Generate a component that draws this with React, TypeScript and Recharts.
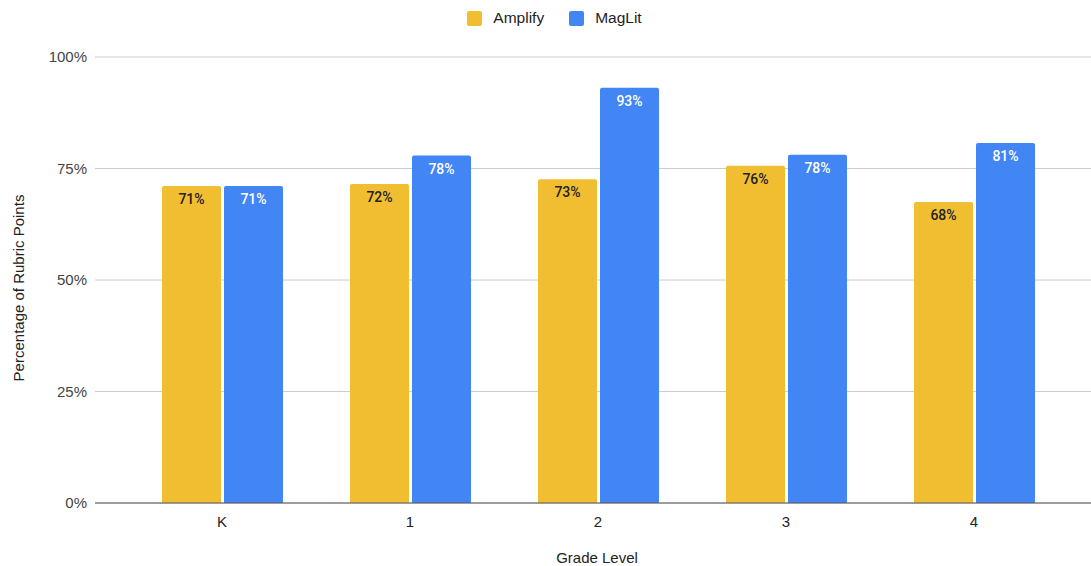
import React from "react";
import { BarChart, Bar, XAxis, YAxis, CartesianGrid, Legend, LabelList, Label } from "recharts";

const grades = ["K", "1", "2", "3", "4"];
const amplify = [71.1, 71.5, 72.6, 75.6, 67.5];
const maglit = [71.1, 77.9, 93.1, 78.1, 80.7];
const yTicks = [0, 25, 50, 75, 100];
const seriesNames = ["Amplify", "MagLit"];
const seriesColors = ["#F1BE32", "#4285F4"];

const data = grades.map((g, i) => ({ grade: g, Amplify: amplify[i], MagLit: maglit[i] }));

const FONT = "Arial, 'Liberation Sans', Helvetica, sans-serif";

const makeLabel = (color: string) => (props: any) => {
  const { x, y, width, value } = props;
  return (
    <text
      x={x + width / 2}
      y={y + 13}
      textAnchor="middle"
      dominantBaseline="central"
      fill={color}
      style={{ fontFamily: "Roboto, sans-serif", fontSize: 14, fontWeight: 500 }}
    >
      {Math.round(value)}%
    </text>
  );
};

const LegendContent = () => (
  <div
    style={{
      display: "flex",
      justifyContent: "center",
      alignItems: "center",
      height: 30,
      paddingLeft: 18,
      boxSizing: "border-box",
      fontFamily: FONT,
      fontSize: 15.5,
      color: "#222",
    }}
  >
    {seriesNames.map((n, i) => (
      <div key={n} style={{ display: "flex", alignItems: "center", marginRight: i === 0 ? 25 : 0 }}>
        <span
          style={{
            display: "inline-block",
            width: 15,
            height: 15,
            borderRadius: 2,
            background: seriesColors[i],
            marginRight: 11,
          }}
        />
        <span>{n}</span>
      </div>
    ))}
  </div>
);

const YLabel = () => (
  <text
    x={18}
    y={288}
    transform="rotate(-90, 18, 288)"
    textAnchor="middle"
    dominantBaseline="central"
    fill="#222"
    style={{ fontFamily: FONT, fontSize: 15 }}
  >
    Percentage of Rubric Points
  </text>
);

export default function App() {
  return (
    <div style={{ position: "absolute", left: 0, top: 0, width: 1091, height: 566, background: "#fff" }}>
      <BarChart
        width={1091}
        height={566}
        data={data}
        margin={{ top: 27, right: 0, bottom: 0, left: 0 }}
        barCategoryGap={34}
        barGap={3}
      >
        <Legend verticalAlign="top" content={<LegendContent />} wrapperStyle={{ top: 3, left: 0, width: 1091 }} />
        <CartesianGrid horizontal vertical={false} stroke="#cccccc" />
        <XAxis
          dataKey="grade"
          height={63}
          tickLine={false}
          axisLine={{ stroke: "#555" }}
          tickMargin={7}
          padding={{ left: 33, right: 23 }}
          tick={{ fill: "#222", fontSize: 15, fontFamily: FONT }}
        >
          <Label value="Grade Level" position="insideBottom" offset={3} dx={4} fill="#222" style={{ fontFamily: FONT, fontSize: 15 }} />
        </XAxis>
        <YAxis
          width={95}
          domain={[0, 100]}
          ticks={yTicks}
          tickFormatter={(v: number) => `${v}%`}
          axisLine={false}
          tickLine={false}
          tick={{ fill: "#444", fontSize: 15, fontFamily: FONT }}
          label={<YLabel />}
        />
        <Bar dataKey="Amplify" fill={seriesColors[0]} radius={[2, 2, 0, 0]} isAnimationActive={false}>
          <LabelList dataKey="Amplify" content={makeLabel("#222")} />
        </Bar>
        <Bar dataKey="MagLit" fill={seriesColors[1]} radius={[2, 2, 0, 0]} isAnimationActive={false}>
          <LabelList dataKey="MagLit" content={makeLabel("#ffffff")} />
        </Bar>
      </BarChart>
    </div>
  );
}
